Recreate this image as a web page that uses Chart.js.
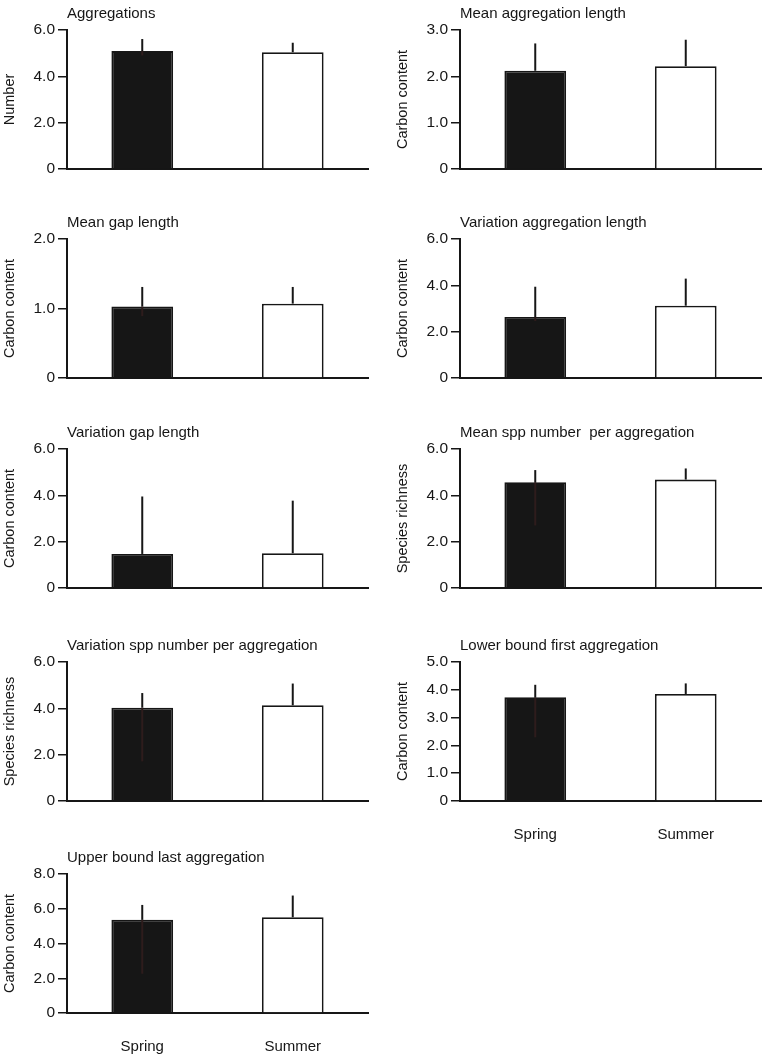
<!DOCTYPE html>
<html>
<head>
<meta charset="utf-8">
<script src="https://cdn.jsdelivr.net/npm/chart.js@4.4.1/dist/chart.umd.min.js"></script>
<style>
  body { margin:0; background:#fff; width:765px; height:1057px; position:relative; overflow:hidden; }
  .panel { position:absolute; width:380px; }
</style>
</head>
<body>
<script>
// categories
const seasons = ['Spring', 'Summer'];

const panelTitles = [
  'Aggregations', 'Mean aggregation length',
  'Mean gap length', 'Variation aggregation length',
  'Variation gap length', 'Mean spp number  per aggregation',
  'Variation spp number per aggregation', 'Lower bound first aggregation',
  'Upper bound last aggregation'
];
const axisTitles = [
  'Number', 'Carbon content',
  'Carbon content', 'Carbon content',
  'Carbon content', 'Species richness',
  'Species richness', 'Carbon content',
  'Carbon content'
];
const axisMax  = [6, 3, 2, 6, 6, 6, 6, 5, 8];
const axisStep = [2, 1, 1, 2, 2, 2, 2, 1, 2];

// bar heights
const springMean = [5.09, 2.12, 1.03, 2.63, 1.47, 4.57, 4.03, 3.73, 5.36];
const summerMean = [5.04, 2.22, 1.07, 3.12, 1.50, 4.68, 4.13, 3.85, 5.51];
// error bar ends (upper whisker above bar, lower one shows faintly inside the black bar)
const springUpper = [5.61, 2.71, 1.31, 3.94, 3.95, 5.09, 4.66, 4.18, 6.22];
const summerUpper = [5.45, 2.79, 1.31, 4.29, 3.77, 5.16, 5.07, 4.23, 6.76];
const springLower = [4.90, null, 0.89, 2.46, null, 2.70, 1.71, 2.29, 2.26];

const ink = '#161616';
const family = "'Liberation Sans', Arial, sans-serif";
const rowTop = [30, 239, 449, 662, 874];
const plotH = 139;

const errorBarPlugin = {
  id: 'errorBars',
  afterDatasetsDraw(chart, args, opts) {
    const ctx = chart.ctx;
    const y = chart.scales.y;
    chart.getDatasetMeta(0).data.forEach((bar, k) => {
      ctx.save();
      ctx.lineWidth = 2;
      if (opts.lower[k] != null) {
        ctx.strokeStyle = '#2e1c1c';
        ctx.beginPath();
        ctx.moveTo(bar.x, bar.y);
        ctx.lineTo(bar.x, y.getPixelForValue(opts.lower[k]));
        ctx.stroke();
      }
      ctx.strokeStyle = ink;
      ctx.beginPath();
      ctx.moveTo(bar.x, bar.y);
      ctx.lineTo(bar.x, y.getPixelForValue(opts.upper[k]));
      ctx.stroke();
      ctx.restore();
    });
  }
};

panelTitles.forEach((title, i) => {
  const col = i % 2, row = Math.floor(i / 2);
  const labelled = (i === 7 || i === 8);
  const xH = labelled ? 48 : 20;

  const box = document.createElement('div');
  box.className = 'panel';
  box.style.left = (col ? 393 : 0) + 'px';
  box.style.top = (rowTop[row] - 30) + 'px';
  box.style.height = (30 + plotH + xH) + 'px';
  const cv = document.createElement('canvas');
  box.appendChild(cv);
  document.body.appendChild(box);

  new Chart(cv, {
    type: 'bar',
    data: {
      labels: seasons,
      datasets: [{
        data: [springMean[i], summerMean[i]],
        backgroundColor: ['#161616', '#ffffff'],
        borderColor: ink,
        borderWidth: 1.8,
        barPercentage: 0.82,
        categoryPercentage: 0.5
      }]
    },
    options: {
      responsive: true,
      maintainAspectRatio: false,
      animation: false,
      layout: { padding: { left: 0, right: 12, top: 0, bottom: 0 } },
      plugins: {
        legend: { display: false },
        tooltip: { enabled: false },
        title: {
          display: true, text: title, align: 'start', fullSize: false,
          color: ink, font: { family, size: 15, weight: 'normal' },
          padding: { top: 5, bottom: 7 }
        },
        errorBars: {
          upper: [springUpper[i], summerUpper[i]],
          lower: [springLower[i], null]
        }
      },
      scales: {
        x: {
          grid: { display: false },
          border: { display: true, color: ink, width: 2 },
          ticks: { display: labelled, color: ink, font: { family, size: 15 }, padding: 17 },
          afterFit(s) { s.height = xH; }
        },
        y: {
          min: 0,
          max: axisMax[i],
          ticks: {
            stepSize: axisStep[i],
            color: ink,
            font: { family, size: 15.5 },
            padding: 3,
            callback: v => v === 0 ? '0' : v.toFixed(1)
          },
          grid: { drawOnChartArea: false, drawTicks: true, tickLength: 9, color: ink, lineWidth: 1.5 },
          border: { display: true, color: ink, width: 2 },
          title: {
            display: true, text: axisTitles[i], color: ink,
            font: { family, size: 14.5 }, padding: { top: 1, bottom: 0 }
          },
          afterFit(s) { s.width = 67; }
        }
      }
    },
    plugins: [errorBarPlugin]
  });
});
</script>
</body>
</html>
